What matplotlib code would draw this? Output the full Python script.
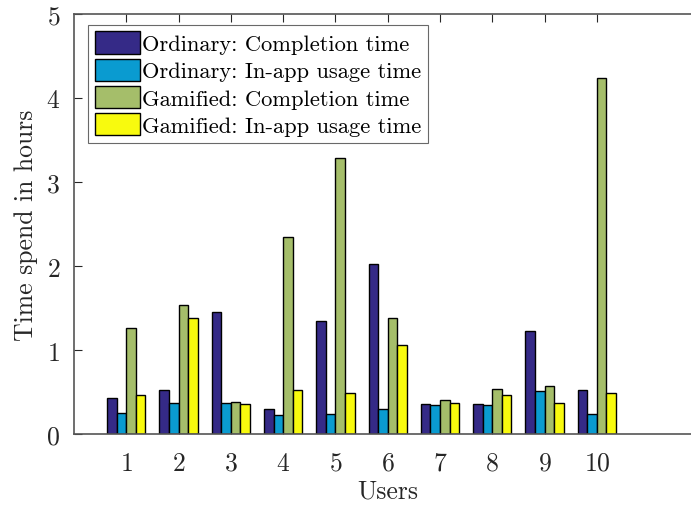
import matplotlib
matplotlib.use("Agg")
import matplotlib.pyplot as plt
import numpy as np

users = [1, 2, 3, 4, 5, 6, 7, 8, 9, 10]
ord_completion = [0.43, 0.53, 1.46, 0.30, 1.35, 2.03, 0.36, 0.36, 1.23, 0.53]
ord_inapp = [0.25, 0.38, 0.38, 0.23, 0.24, 0.30, 0.35, 0.35, 0.52, 0.24]
gam_completion = [1.27, 1.54, 0.39, 2.35, 3.29, 1.39, 0.41, 0.54, 0.58, 4.24]
gam_inapp = [0.47, 1.39, 0.36, 0.53, 0.49, 1.06, 0.38, 0.47, 0.38, 0.49]

series = [ord_completion, ord_inapp, gam_completion, gam_inapp]
labels = ["Ordinary: Completion time", "Ordinary: In-app usage time",
          "Gamified: Completion time", "Gamified: In-app usage time"]
colors = ["#352a87", "#0a9bd0", "#a5be6a", "#f8fa0e"]

plt.rcParams['font.family'] = 'serif'
plt.rcParams['font.serif'] = ['cmr10']
plt.rcParams['axes.formatter.use_mathtext'] = True

fig = plt.figure(figsize=(6.91, 5.10), dpi=100)
ax = fig.add_axes([0.1071, 0.1461, 0.908, 0.8245])

x = np.array(users, dtype=float)
step = 0.183
for i, (vals, lab, col) in enumerate(zip(series, labels, colors)):
    ax.bar(x + (i - 1.5) * step, vals, width=step, color=col, edgecolor='black',
           linewidth=1.0, label=lab, zorder=2)

ax.set_xlim(0, 12)
ax.set_ylim(0, 5)
ax.set_xticks(users)
ax.set_yticks([0, 1, 2, 3, 4, 5])
ax.tick_params(direction='in', length=6, width=0.8, top=True, right=False,
               labelsize=18.5, colors='#262626')
ax.tick_params(axis='x', pad=12)
ax.tick_params(axis='y', pad=10)
for s in ['left', 'bottom', 'top']:
    ax.spines[s].set_color('#555555')
    ax.spines[s].set_linewidth(1.2)
ax.spines['right'].set_visible(False)

ax.set_xlabel("Users", fontsize=18.5, color='#262626', labelpad=3)
ax.set_ylabel("Time spend in hours", fontsize=18.5, color='#262626', labelpad=6)

leg = ax.legend(loc='upper left', bbox_to_anchor=(0.022, 0.975), fontsize=16.2,
                frameon=True, fancybox=False, handlelength=2.0, handleheight=1.15,
                handletextpad=0.1, borderpad=0.3, labelspacing=0.2,
                borderaxespad=0.0)
leg.get_frame().set_edgecolor('#444444')
leg.get_frame().set_linewidth(0.8)

fig.savefig("out.png", dpi=100)
